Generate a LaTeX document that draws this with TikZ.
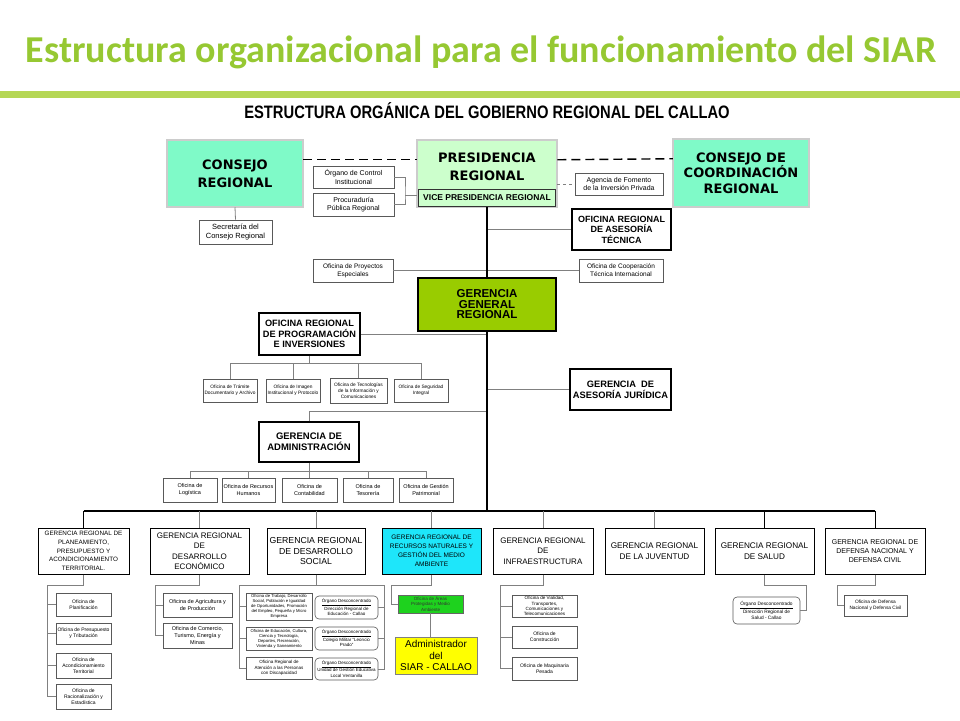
\documentclass[tikz,border=0pt]{standalone}
\usepackage{fontspec}
\setmainfont{Liberation Sans}
\newfontfamily\headfont{DejaVu Sans}
\newfontfamily\slidefont{Carlito}
\usepackage{graphicx}
\usepackage{xcolor}
\usetikzlibrary{positioning,calc}

\definecolor{titlegreen}{RGB}{150,200,50}
\definecolor{bargreen}{RGB}{181,215,85}
\definecolor{consejofill}{RGB}{127,250,200}
\definecolor{presfill}{RGB}{204,255,204}
\definecolor{ggrfill}{RGB}{153,204,0}
\definecolor{rnfill}{RGB}{30,230,250}
\definecolor{apmafill}{RGB}{30,210,30}
\definecolor{siaryellow}{RGB}{255,255,0}

\newcommand{\fsz}[2]{\fontsize{#1}{#2}\selectfont}

\tikzset{
  sz/.style 2 args={minimum width=#1pt, minimum height=#2pt},
  office/.style={draw=black!65, line width=0.6pt, fill=white, inner sep=0pt, align=center},
  organo/.style={office, rounded corners=4pt},
  headbox/.style={draw=black!80, line width=0.5pt, double=black!20, double distance=1.4pt,
    inner sep=0pt, align=center, font=\headfont\bfseries\fsz{13}{18}},
  boldbox/.style={draw=black, line width=1.5pt, fill=white, inner sep=0pt, align=center},
  gerbox/.style={draw=black, line width=1pt, fill=white, inner sep=0pt, align=center},
  link/.style={draw=black!50, line width=0.8pt},
  trunk/.style={draw=black, line width=1.3pt},
  dline/.style={trunk, line width=1.4pt, dash pattern=on 9pt off 5pt},
}

\begin{document}
\begin{tikzpicture}[x=1pt, y=-1pt]
\useasboundingbox (0,0) rectangle (960,720);
\fill[white] (0,0) rectangle (960,720);

% slide header
\node[anchor=base, text=titlegreen, font=\slidefont\bfseries\fsz{38}{40}] (title) at (481,62)
  {Estructura organizacional para el funcionamiento del SIAR};
\fill[bargreen] (0,91) rectangle (960,98);
\node[anchor=base, font=\bfseries\fsz{18}{20}] (orgtitle) at (487,118)
  {\scalebox{0.82}[1]{ESTRUCTURA ORGÁNICA DEL GOBIERNO REGIONAL DEL CALLAO}};

% alta direccion
\node[headbox, fill=consejofill, sz={136}{67}] (consejo) at (235,173.5) {CONSEJO\\REGIONAL};
\node[headbox, fill=presfill, sz={140}{67}] (pres) at (487,173.5) {};
\node[font=\headfont\bfseries\fsz{13}{18.5}, align=center] (prestxt) at (487,167) {PRESIDENCIA\\REGIONAL};
\node[draw=black!80, line width=0.8pt, sz={137}{17}, inner sep=0pt, font=\bfseries\fsz{8.5}{10}] (vice) at (487,197.5) {VICE PRESIDENCIA REGIONAL};
\node[headbox, fill=consejofill, sz={136}{68}, font=\headfont\bfseries\fsz{13}{15.5}] (ccr) at (741,173) {CONSEJO DE\\COORDINACIÓN\\REGIONAL};

\node[office, sz={73}{24}, font=\fsz{7.5}{9}] (secret) at (235.5,232) {Secretaría del\\Consejo Regional};
\node[office, sz={81}{22}, font=\fsz{7}{8.5}] (ctrl) at (353.5,177) {Órgano de Control\\Institucional};
\node[office, sz={81}{23}, font=\fsz{7}{8.5}] (procu) at (353.5,204.5) {Procuraduría\\Pública Regional};
\node[office, sz={88}{22}, font=\fsz{7}{8.5}] (fomento) at (619,184) {Agencia de Fomento\\de la Inversión Privada};
\node[boldbox, sz={99}{41}, font=\bfseries\fsz{9}{10.5}] (asetec) at (621.5,229.5) {OFICINA REGIONAL\\DE ASESORÍA\\TÉCNICA};
\node[office, sz={80}{23}, font=\fsz{6.5}{8}] (proyesp) at (353,270.5) {Oficina de Proyectos\\Especiales};
\node[office, sz={84}{23}, font=\fsz{6.5}{8}] (cooptec) at (621,270.5) {Oficina de Cooperación\\Técnica Internacional};

\draw[dline] ([yshift=-20pt]consejo.north east) -- ([yshift=-20pt]pres.north west);
\draw[dline] ([yshift=-20pt]pres.north east) -- ([yshift=-20pt]ccr.north west);
\draw[link] (consejo.south) -- (secret.north);
\coordinate (ctrlbrk) at (405,195);
\draw[link] (ctrl.east) -| (ctrlbrk) |- (procu.east);
\draw[link] (ctrlbrk) -- (ctrlbrk -| pres.west);
\draw[link, dashed] (pres.east |- fomento.west) -- (fomento.west);
\draw[link] (asetec.west -| pres.south) -- (asetec.west);
\draw[link] (proyesp.east) -- (cooptec.west);

% gerencia general
\node[boldbox, line width=2pt, fill=ggrfill, sz={138}{53}, font=\bfseries\fsz{11.5}{10.5}] (ggr) at (487,304.5) {GERENCIA\\GENERAL\\REGIONAL};
\node[boldbox, sz={101}{42}, font=\bfseries\fsz{9.2}{10.5}] (progin) at (309.5,334) {OFICINA REGIONAL\\DE PROGRAMACIÓN\\E INVERSIONES};
\node[office, sz={54}{23}, font=\fsz{4.8}{6}] (tramite) at (230,390.5) {Oficina de Trámite\\Documentario y Archivo};
\node[office, sz={54}{23}, font=\fsz{4.8}{6}] (imagen) at (293,390.5) {Oficina de Imagen\\Institucional y Protocolo};
\node[office, sz={57}{25}, font=\fsz{4.8}{6}] (tecinf) at (358.5,390.5) {Oficina de Tecnologías\\de la Información y\\Comunicaciones};
\node[office, sz={54}{23}, font=\fsz{4.8}{6}] (segint) at (421,390.5) {Oficina de Seguridad\\Integral};
\node[boldbox, sz={101}{41}, font=\bfseries\fsz{9.3}{11}] (asejur) at (620.5,389.5) {GERENCIA~~DE\\ASESORÍA JURÍDICA};
\node[boldbox, sz={100}{40}, font=\bfseries\fsz{9.5}{11}] (admin) at (309,442) {GERENCIA DE\\ADMINISTRACIÓN};
\node[office, sz={54}{24}, font=\fsz{5.5}{7}] (logistica) at (190,490) {Oficina de\\Logística};
\node[office, sz={53}{24}, font=\fsz{5.5}{7}] (rrhh) at (248.5,490) {Oficina de Recursos\\Humanos};
\node[office, sz={55}{24}, font=\fsz{5.5}{7}] (contab) at (309.5,490) {Oficina de\\Contabilidad};
\node[office, sz={50}{24}, font=\fsz{5.5}{7}] (tesor) at (368,490) {Oficina de\\Tesorería};
\node[office, sz={54}{24}, font=\fsz{5.5}{7}] (patrim) at (426,490) {Oficina de Gestión\\Patrimonial};

\coordinate (bus) at (487,511);
\draw[link] (progin.east) -- (progin.east -| bus);
\coordinate (prgbus) at (309.5,363);
\draw[link] (progin.south) -- (prgbus);
\draw[link] (tramite.north |- prgbus) -- (segint.north |- prgbus);
\foreach \n in {tramite,imagen,tecinf,segint}
  \draw[link] (\n.north) -- (\n.north |- prgbus);
\draw[link] (asejur.west -| bus) -- (asejur.west);
\coordinate (admbrk) at (487,411);
\draw[link] (admin.north) |- (admbrk);
\coordinate (admbus) at (309,471);
\draw[link] (admin.south) -- (admbus);
\draw[link] (logistica.north |- admbus) -- (patrim.north |- admbus);
\foreach \n in {logistica,rrhh,contab,tesor,patrim}
  \draw[link] (\n.north) -- (\n.north |- admbus);
\draw[trunk] (pres.south) -- (ggr.north);
\draw[trunk] (ggr.south) -- (bus);

% gerencias regionales
\node[gerbox, sz={91}{46}, font=\fsz{6.3}{8.6}] (g1) at (83.5,551) {GERENCIA REGIONAL DE\\PLANEAMIENTO,\\PRESUPUESTO Y\\ACONDICIONAMIENTO\\TERRITORIAL.};
\node[gerbox, sz={99}{46}, font=\fsz{8}{10.5}] (g2) at (199.5,551) {GERENCIA REGIONAL\\DE\\DESARROLLO\\ECONÓMICO};
\node[gerbox, sz={98}{46}, font=\fsz{8.7}{10.5}] (g3) at (316,551) {GERENCIA REGIONAL\\DE DESARROLLO\\SOCIAL};
\node[gerbox, fill=rnfill, sz={99}{46}, font=\fsz{6.5}{9}] (g4) at (431.5,551) {GERENCIA REGIONAL DE\\RECURSOS NATURALES Y\\GESTIÓN DEL MEDIO\\AMBIENTE};
\node[gerbox, sz={100}{46}, font=\fsz{8}{10.5}] (g5) at (543,551) {GERENCIA REGIONAL\\DE\\INFRAESTRUCTURA};
\node[gerbox, sz={99}{46}, font=\fsz{8.2}{10.5}] (g6) at (654.5,551) {GERENCIA REGIONAL\\DE LA JUVENTUD};
\node[gerbox, sz={99}{46}, font=\fsz{8.2}{10.5}] (g7) at (764.5,551) {GERENCIA REGIONAL\\DE SALUD};
\node[gerbox, sz={100}{46}, font=\fsz{7}{9}] (g8) at (875,551) {GERENCIA REGIONAL DE\\DEFENSA NACIONAL Y\\DEFENSA CIVIL};

\draw[trunk] (g1.north |- bus) -- (g8.north |- bus);
\foreach \gr in {g2,g3,g4,g5,g6}
  \draw[link] (\gr.north) -- (\gr.north |- bus);
\foreach \gr in {g1,g7,g8}
  \draw[trunk, line width=1pt] (\gr.north) -- (\gr.north |- bus);

% planeamiento
\node[office, sz={55}{23}, font=\fsz{5}{6.2}] (planif) at (83.5,604.5) {Oficina de\\Planificación};
\node[office, sz={55}{21}, font=\fsz{5}{6.2}] (presup) at (83.5,633.5) {Oficina de Presupuesto\\y Tributación};
\node[office, sz={55}{25}, font=\fsz{5}{6.2}] (acond) at (83.5,665.5) {Oficina de\\Acondicionamiento\\Territorial};
\node[office, sz={55}{25}, font=\fsz{5}{6.2}] (racion) at (83.5,696.5) {Oficina de\\Racionalización y\\Estadística};
\coordinate (planv) at (47,585);
\draw[link] (g1.south) |- (planv) |- (racion.west);
\foreach \n in {planif,presup,acond}
  \draw[link] (\n.west) -- (\n.west -| planv);

% desarrollo economico
\node[office, sz={69}{24}, font=\fsz{5.5}{7}] (agric) at (197.5,605) {Oficina de Agricultura y\\de Producción};
\node[office, sz={69}{25}, font=\fsz{5.5}{7}] (comerc) at (197.5,635.5) {Oficina de Comercio,\\Turismo, Energía y\\Minas};
\coordinate (ecov) at (155,585);
\draw[link] (g2.south) |- (ecov) |- (comerc.west);
\draw[link] (agric.west) -- (agric.west -| ecov);

% desarrollo social
\node[office, sz={66}{27}, font=\fsz{4.2}{5}] (trabajo) at (279,606.5) {Oficina de Trabajo, Desarrollo\\Social, Población e Igualdad\\de Oportunidades, Promoción\\del Empleo, Pequeña y Micro\\Empresa};
\node[office, sz={66}{23}, font=\fsz{4.2}{5}] (educ) at (279,638.5) {Oficina de Educación, Cultura,\\Ciencia y Tecnología,\\Deportes, Recreación,\\Vivienda y Saneamiento};
\node[office, sz={66}{22}, font=\fsz{4.5}{5.6}] (discap) at (279,668) {Oficina Regional de\\Atención a las Personas\\con Discapacidad};
\node[organo, sz={63}{23}, font=\fsz{4.5}{5.8}] (odedu) at (346.5,607.5) {\underline{Órgano Desconcentrado}\\Dirección Regional de\\Educación - Callao};
\node[organo, sz={63}{23}, font=\fsz{4.5}{5.8}] (odcmlp) at (346.5,638.5) {\underline{Órgano Desconcentrado}\\Colegio Militar ``Leoncio\\Prado''};
\node[organo, sz={63}{22}, font=\fsz{4.5}{5.8}] (odugel) at (346.5,669) {\underline{Órgano Desconcentrado}\\Unidad de Gestión Educativa\\Local Ventanilla};
\coordinate (socl) at (239,585);
\coordinate (socr) at (384,585);
\draw[link] (g3.south) -- (g3.south |- socl);
\draw[link] (socl) -- (socr);
\draw[link] (socl) |- (discap.west);
\draw[link] (socr) |- (odugel.east);
\foreach \n in {trabajo,educ}
  \draw[link] (\n.west) -- (\n.west -| socl);
\foreach \n in {odedu,odcmlp}
  \draw[link] (\n.east) -- (\n.east -| socr);

% recursos naturales
\node[draw=black!60, line width=0.8pt, fill=apmafill, sz={65}{18}, inner sep=0pt, align=center, text=black!80, font=\fsz{4.5}{5.3}] (apma) at (430.5,604) {Oficina de Áreas\\Protegidas y Medio\\Ambiente};
\node[draw=black!50, line width=0.8pt, fill=siaryellow, sz={82}{37}, inner sep=0pt, align=center, font=\fsz{10}{11.5}] (siar) at (436,655.5) {Administrador\\del\\SIAR - CALLAO};
\coordinate (rnv) at (391,585);
\draw[link] (g4.south) |- (rnv) |- (apma.west);
\draw[link] (apma.south) -- (apma.south |- siar.north);

% infraestructura
\node[office, sz={65}{22}, font=\fsz{4.6}{5.2}] (vialid) at (544.5,606) {Oficina de Vialidad,\\Transportes,\\Comunicaciones y\\Telecomunicaciones};
\node[office, sz={65}{22}, font=\fsz{5}{6.2}] (constr) at (544.5,637) {Oficina de\\Construcción};
\node[office, sz={65}{23}, font=\fsz{5}{6.2}] (maquin) at (544.5,668.5) {Oficina de Maquinaria\\Pesada};
\coordinate (infv) at (500,585);
\draw[link] (g5.south) |- (infv) |- (maquin.west);
\foreach \n in {vialid,constr}
  \draw[link] (\n.west) -- (\n.west -| infv);

% salud y defensa
\node[organo, sz={67}{27}, font=\fsz{4.8}{6}] (odsalud) at (766.5,610.5) {\underline{Órgano Desconcentrado}\\Dirección Regional de\\Salud - Callao};
\coordinate (salv) at (806,585);
\draw[link] (g7.south) |- (salv) |- (odsalud.east);
\node[office, sz={63}{21}, font=\fsz{4.8}{6}] (defcivil) at (875.5,605.5) {Oficina de Defensa\\Nacional y Defensa Civil};
\coordinate (defv) at (837,585);
\draw[link] (g8.south) |- (defv) |- (defcivil.west);
\end{tikzpicture}
\end{document}
